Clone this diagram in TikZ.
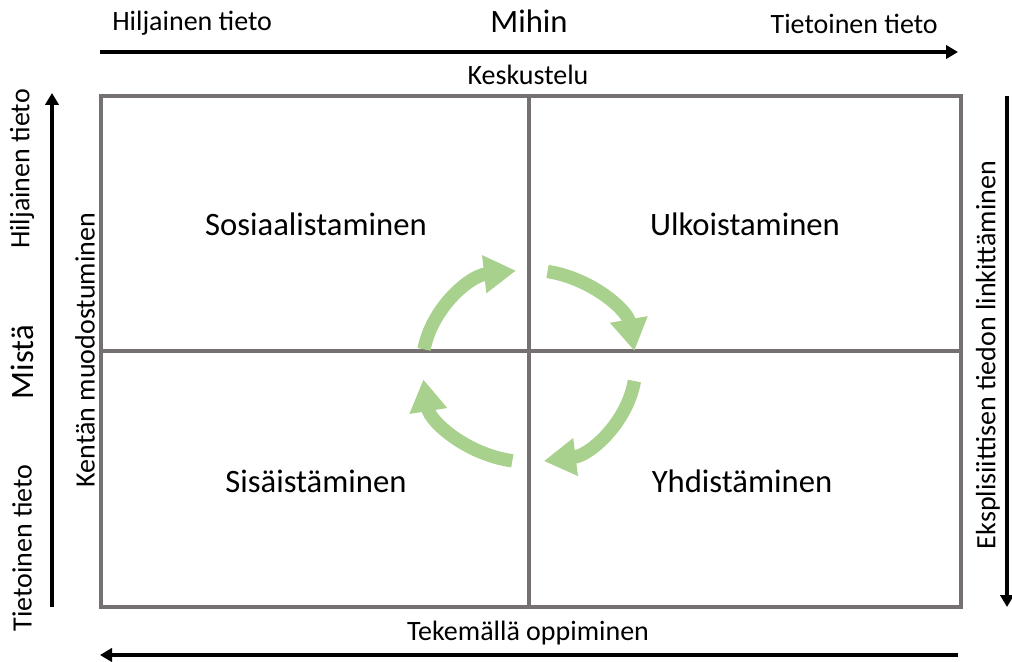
\documentclass[tikz,border=0pt]{standalone}
\usepackage{fontspec}
\setmainfont{Carlito}
\usepackage{tikz}
\usetikzlibrary{arrows.meta, positioning, calc}
\usepackage{xcolor}
\definecolor{gridgray}{RGB}{118,113,113}
\definecolor{cyclegreen}{RGB}{169,209,142}

\tikzset{
  axisarrow/.style={line width=3pt, -{Triangle[width=10pt,length=9pt]}},
  smalltext/.style={font=\fontsize{21}{24}\selectfont, inner sep=0pt},
  bigtext/.style={font=\fontsize{24.5}{28}\selectfont, inner sep=0pt},
  cyclearrow/.style={cyclegreen, line width=10pt, -{Triangle[width=27pt,length=24pt]}}
}

\begin{document}
\begin{tikzpicture}[x=0.75pt, y=0.75pt]
  \useasboundingbox (0,0) rectangle (1012,661);
  % matrix
  \draw[gridgray, line width=3pt] (101,54) rectangle (961,565);
  \draw[gridgray, line width=3pt] (529,54) -- (529,565);
  \draw[gridgray, line width=3pt] (101,310) -- (961,310);
  \node[bigtext] (sos) at (316,437) {Sosiaalistaminen};
  \node[bigtext] (ulk) at (745,437) {Ulkoistaminen};
  \node[bigtext] (sis) at (316,180) {Sisäistäminen};
  \node[bigtext] (yhd) at (742,180) {Yhdistäminen};
  % cycle
  \coordinate (cyc) at (529,295);
  \foreach \a/\b in {170/97, 80/9, -9/-82, -99/-172} {
    \draw[cyclearrow] (cyc) ++(\a:80pt and 72pt)
      arc[start angle=\a, end angle=\b, x radius=80pt, y radius=72pt];
  }
  % top
  \coordinate (topS) at (100,609); \coordinate (topE) at (958,609);
  \draw[axisarrow] (topS) -- (topE);
  \node[smalltext, anchor=base west] (tHil) at (112,630) {Hiljainen tieto};
  \node[bigtext, anchor=base] (mihin) at (529,628) {Mihin};
  \node[smalltext, anchor=base east] (tTie) at (938,627) {Tietoinen tieto};
  \node[smalltext] (kesk) at (528,586) {Keskustelu};
  % left
  \coordinate (leftS) at (52,54); \coordinate (leftE) at (52,568);
  \draw[axisarrow] (leftS) -- (leftE);
  \node[smalltext, rotate=90] (lHil) at (22,492) {Hiljainen tieto};
  \node[bigtext, rotate=90] (mista) at (22,299) {Mistä};
  \node[smalltext, rotate=90] (lTie) at (22,113) {Tietoinen tieto};
  \node[smalltext, rotate=90] (kent) at (85,311) {Kentän muodostuminen};
  % right
  \coordinate (rightS) at (1007,565); \coordinate (rightE) at (1007,54);
  \draw[axisarrow] (rightS) -- (rightE);
  \node[smalltext, rotate=90] (eksp) at (988,306) {Eksplisiittisen tiedon linkittäminen};
  % bottom
  \coordinate (botS) at (958,6); \coordinate (botE) at (100,6);
  \draw[axisarrow] (botS) -- (botE);
  \node[smalltext] (teke) at (528,28) {Tekemällä oppiminen};
\end{tikzpicture}
\end{document}
